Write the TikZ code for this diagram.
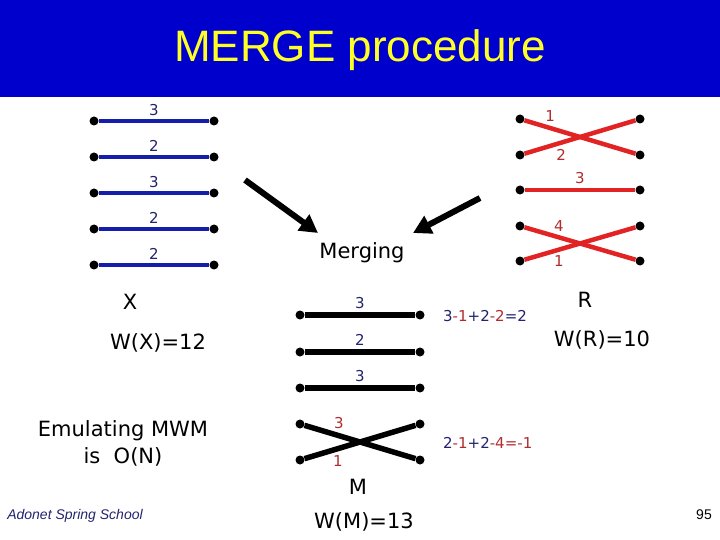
\documentclass[tikz,border=0pt]{standalone}
\usepackage{fontspec}
\setmainfont{DejaVu Sans}
\newfontfamily\arialfont{Liberation Sans}
\usetikzlibrary{arrows.meta}
\definecolor{titleblue}{RGB}{0,0,204}
\definecolor{titleyellow}{RGB}{255,255,40}
\definecolor{lineblue}{RGB}{20,30,170}
\definecolor{linered}{RGB}{225,35,35}
\definecolor{numblue}{RGB}{35,35,110}
\definecolor{numred}{RGB}{175,45,45}

\begin{document}
\begin{tikzpicture}[x=1pt, y=-1pt,
  dot/.style={circle, fill=black, inner sep=0pt, minimum size=9pt},
  num/.style={font=\fontsize{15}{17}\selectfont, inner sep=4pt},
  big/.style={font=\fontsize{21}{25}\selectfont},
  edgeX/.style={line width=3.2pt, lineblue},
  edgeR/.style={line width=4.5pt, linered},
  edgeM/.style={line width=5.5pt, black},
  bigarrow/.style={line width=6pt, -{Triangle[length=18pt,width=19pt]}}
]
\useasboundingbox (0,0) rectangle (720,540);

% title bar
\fill[titleblue] (0,0) rectangle (720,97);
\node[font=\arialfont\fontsize{44}{50}\selectfont, text=titleyellow, anchor=base] (title) at (360,62) {MERGE procedure};

% X : blue matching
\foreach \i/\y in {1/121, 2/157, 3/193, 4/229, 5/265} {
  \node[dot] (xa\i) at (94,\y) {};
  \node[dot] (xb\i) at (214,\y) {};
}
\draw[edgeX] (xa1) -- (xb1) node[midway, above, num, text=numblue]{3};
\draw[edgeX] (xa2) -- (xb2) node[midway, above, num, text=numblue]{2};
\draw[edgeX] (xa3) -- (xb3) node[midway, above, num, text=numblue]{3};
\draw[edgeX] (xa4) -- (xb4) node[midway, above, num, text=numblue]{2};
\draw[edgeX] (xa5) -- (xb5) node[midway, above, num, text=numblue]{2};

% R : red matching
\foreach \i/\y in {1/119, 2/155, 3/190, 4/226, 5/261} {
  \node[dot] (ra\i) at (520,\y) {};
  \node[dot] (rb\i) at (640,\y) {};
}
\draw[edgeR] (ra1) -- (rb2) node[pos=0.23, above, num, text=numred]{1};
\draw[edgeR] (ra2) -- (rb1) node[pos=0.33, below, num, text=numred]{2};
\draw[edgeR] (ra3) -- (rb3) node[midway, above, num, text=numred]{3};
\draw[edgeR] (ra4) -- (rb5) node[pos=0.31, above, num, text=numred]{4};
\draw[edgeR] (ra5) -- (rb4) node[pos=0.31, below, num, text=numred]{1};

% M : merged matching
\foreach \i/\y in {1/315, 2/352, 3/388, 4/424, 5/460} {
  \node[dot] (ma\i) at (300,\y) {};
  \node[dot] (mb\i) at (420,\y) {};
}
\draw[edgeM] (ma1) -- (mb1) node[midway, above, num, text=numblue]{3};
\draw[edgeM] (ma2) -- (mb2) node[midway, above, num, text=numblue]{2};
\draw[edgeM] (ma3) -- (mb3) node[midway, above, num, text=numblue]{3};
\draw[edgeM] (ma4) -- (mb5) node[pos=0.31, above, num, text=numred]{3};
\draw[edgeM] (ma5) -- (mb4) node[pos=0.3, below, num, text=numred]{1};

% merging arrows
\node[big] (merge) at (362,253) {Merging};
\coordinate (xout) at (245,180);
\coordinate (xin) at (318,233);
\coordinate (rout) at (480,198);
\coordinate (rin) at (413,233);
\draw[bigarrow] (xout) -- (xin);
\draw[bigarrow] (rout) -- (rin);

% weights
\node[big] (xname) at (130,302) {X};
\node[big] (xw) at (158,343) {W(X)=12};
\node[big] (rname) at (585,300) {R};
\node[big] (rw) at (602,340) {W(R)=10};
\node[big] (mname) at (358,487) {M};
\node[big] (mw) at (364,522) {W(M)=13};

\node[num, anchor=west, inner sep=0pt] (gain1) at (443,316)
  {\textcolor{numblue}{3}\textcolor{numred}{-1}\textcolor{numblue}{+2}\textcolor{numred}{-2}\textcolor{numblue}{=2}};
\node[num, anchor=west, inner sep=0pt] (gain2) at (443,443)
  {\textcolor{numblue}{2}\textcolor{numred}{-1}\textcolor{numblue}{+2}\textcolor{numred}{-4=-1}};

\node[big, align=center] (emu) at (123,443) {Emulating MWM\\[2pt]is\ \ O(N)};

% footer
\node[font=\arialfont\itshape\fontsize{14}{16}\selectfont, text=numblue] (school) at (75,516) {Adonet Spring School};
\node[font=\arialfont\fontsize{14}{16}\selectfont] (page) at (704,515) {95};
\end{tikzpicture}
\end{document}
